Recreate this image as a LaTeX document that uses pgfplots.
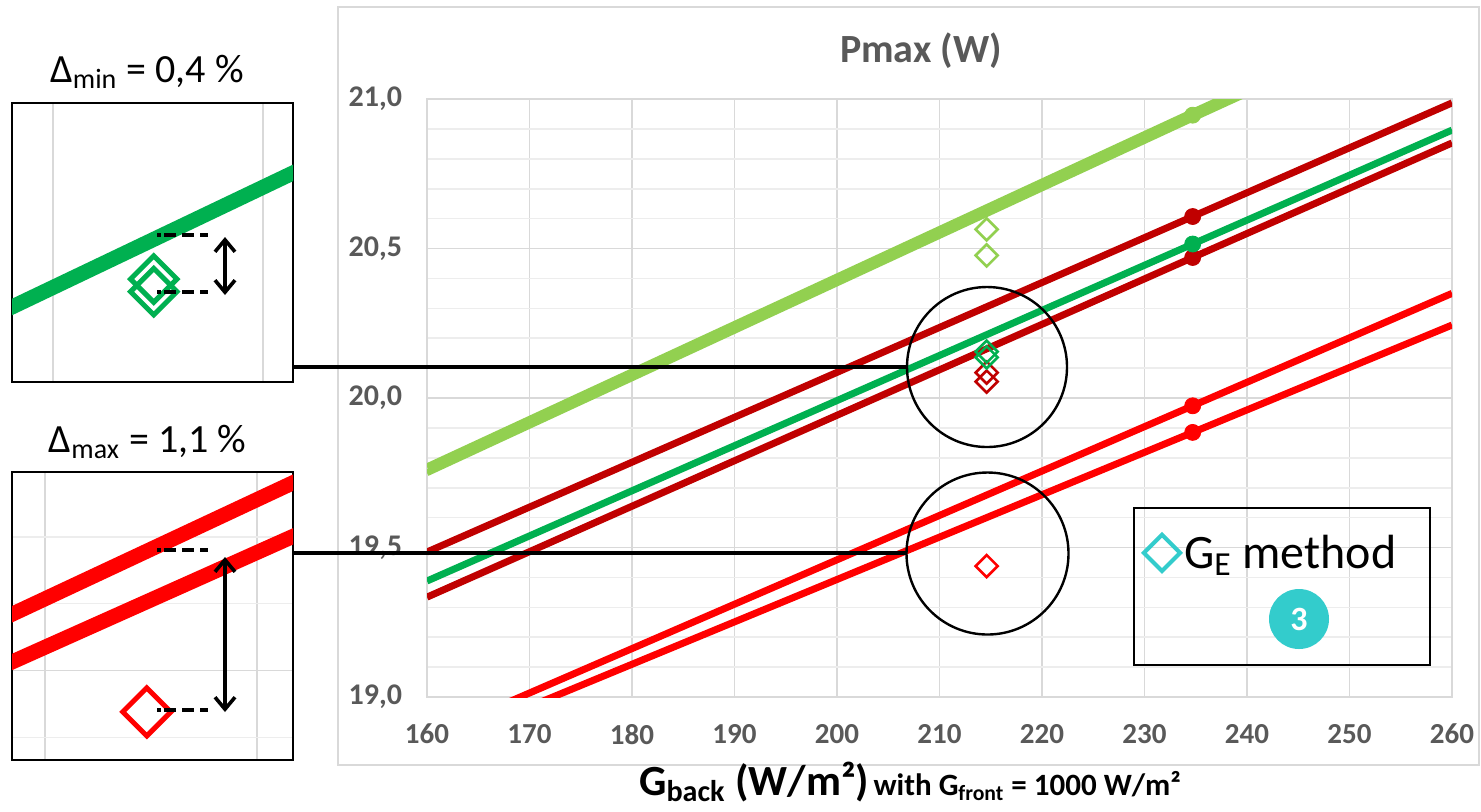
\documentclass[border=0pt]{standalone}
\usepackage{pgfplots}
\pgfplotsset{compat=1.18}
\usepackage{fontspec}
\setmainfont{Carlito}
\usetikzlibrary{arrows.meta}
\definecolor{cLime}{HTML}{92D050}
\definecolor{cGreen}{HTML}{00B050}
\definecolor{cDRed}{HTML}{C00000}
\definecolor{cRed}{HTML}{FF0000}
\definecolor{cCyan}{HTML}{33CCCC}
\definecolor{cText}{HTML}{595959}
\definecolor{cGrid}{HTML}{D9D9D9}
\definecolor{cGridMinor}{HTML}{EDEDED}

% line data (Gback, Pmax)
\pgfplotstableread{
x y
160 19.770
234.7 20.956
260 21.353
}\limeA
\pgfplotstableread{
x y
160 19.750
234.7 20.936
260 21.333
}\limeB
\pgfplotstableread{
x y
160 19.485
234.7 20.607
260 20.987
}\dredA
\pgfplotstableread{
x y
160 19.388
234.7 20.515
260 20.896
}\green
\pgfplotstableread{
x y
160 19.334
234.7 20.470
260 20.853
}\dredB
\pgfplotstableread{
x y
160 18.865
234.7 19.974
260 20.350
}\redA
\pgfplotstableread{
x y
160 18.826
234.7 19.885
260 20.244
}\redB

\begin{document}
\begin{tikzpicture}
\useasboundingbox (0,0) rectangle (740.5pt,-405.5pt);
\fill[white] (0,0) rectangle (740.5pt,-405.5pt);
\begin{scope}[x=0.5pt,y=-0.5pt]
\draw[cGrid, line width=1pt] (338,7) rectangle (1479,765);
\end{scope}

% ---------------- main axis ----------------
\begin{axis}[
  at={(213.5pt,-348.5pt)}, anchor=south west,
  scale only axis, width=512.5pt, height=299pt,
  xmin=160, xmax=260, ymin=19, ymax=21,
  xtick={160,170,180,190,200,210,220,230,240,250,260},
  ytick={19,19.5,20,20.5,21},
  minor ytick={19.1,19.2,19.3,19.4,19.6,19.7,19.8,19.9,20.1,20.2,20.3,20.4,20.6,20.7,20.8,20.9},
  grid=both,
  major grid style={draw=cGrid, line width=0.8pt},
  minor grid style={draw=cGridMinor, line width=0.8pt},
  axis line style={draw=cGrid, line width=0.8pt},
  tick style={draw=none},
  /pgf/number format/assume math mode=true,
  xticklabel style={font=\bfseries\fontsize{14.5}{16}\selectfont, text=cText, yshift=-10pt},
  yticklabel style={font=\bfseries\fontsize{15}{17}\selectfont, text=cText, xshift=-9pt},
  yticklabel={\pgfmathprintnumber[fixed,fixed zerofill,precision=1,use comma]{\tick}},
  legend style={at={(axis description cs:0.699,0.241)}, anchor=west, draw=none, fill=none,
    font=\fontsize{24}{28}\selectfont, inner sep=0pt, nodes={inner sep=2pt}},
  legend image code/.code={\draw[#1] plot coordinates {(0pt,0pt)};},
]
\addlegendimage{only marks, mark=square, mark size=6.4pt, mark options={rotate=45, line width=2pt}, cCyan}
\addlegendentry{G\textsubscript{E} method}

\addplot[forget plot, cLime, line width=3.4pt] table {\limeB};
\addplot[forget plot, cLime, line width=3.4pt] table {\limeA};
\addplot[forget plot, cDRed, line width=3.5pt] table {\dredA};
\addplot[forget plot, cGreen, line width=3.5pt] table {\green};
\addplot[forget plot, cDRed, line width=3.5pt] table {\dredB};
\addplot[forget plot, cRed, line width=3.5pt] table {\redA};
\addplot[forget plot, cRed, line width=3.5pt] table {\redB};

% measured points
\addplot[forget plot, only marks, mark=*, mark size=4pt, cLime] coordinates {(234.7,20.946)};
\addplot[forget plot, only marks, mark=*, mark size=4pt, cDRed] coordinates {(234.7,20.607) (234.7,20.470)};
\addplot[forget plot, only marks, mark=*, mark size=4pt, cGreen] coordinates {(234.7,20.515)};
\addplot[forget plot, only marks, mark=*, mark size=4pt, cRed] coordinates {(234.7,19.974) (234.7,19.885)};

% GE method diamonds
\addplot[forget plot, only marks, mark=square, mark size=3.9pt, mark options={rotate=45, line width=1.3pt}, cLime] coordinates {(214.6,20.564) (214.6,20.477)};
\addplot[forget plot, only marks, mark=square, mark size=3.9pt, mark options={rotate=45, line width=1.3pt}, cDRed] coordinates {(214.6,20.085) (214.6,20.055)};
\addplot[forget plot, only marks, mark=square, mark size=3.9pt, mark options={rotate=45, line width=1.3pt}, cGreen] coordinates {(214.6,20.155) (214.6,20.136)};
\addplot[forget plot, only marks, mark=square, mark size=3.9pt, mark options={rotate=45, line width=1.3pt}, cRed] coordinates {(214.6,19.438)};
\end{axis}

% ---------------- top inset (zoom) ----------------
\begin{axis}[
  at={(6pt,-191pt)}, anchor=south west,
  scale only axis, width=140.5pt, height=139.5pt,
  xmin=208.05, xmax=221.43, ymin=20.0, ymax=20.42,
  xtick={210,220}, ytick=\empty,
  minor ytick={20.1,20.2,20.3,20.4},
  xticklabels={}, grid=both,
  major grid style={draw=cGrid, line width=0.8pt},
  minor grid style={draw=cGridMinor, line width=0.8pt},
  axis line style={draw=black, line width=1pt},
  tick style={draw=none},
]
\addplot[cGreen, line width=7.5pt] table {\green};
\addplot[only marks, mark=square, mark size=8.2pt, mark options={rotate=45, line width=2.5pt}, cGreen] coordinates {(214.8,20.155) (214.8,20.136)};
\end{axis}

% ---------------- bottom inset (zoom) ----------------
\begin{axis}[
  at={(6pt,-380pt)}, anchor=south west,
  scale only axis, width=140.5pt, height=144pt,
  xmin=208.44, xmax=221.7, ymin=19.366, ymax=19.797,
  xtick={210,220}, ytick={19.5},
  minor ytick={19.4,19.6,19.7},
  xticklabels={}, yticklabels={}, grid=both,
  major grid style={draw=cGrid, line width=0.8pt},
  minor grid style={draw=cGridMinor, line width=0.8pt},
  axis line style={draw=black, line width=1pt},
  tick style={draw=none},
]
\addplot[cRed, line width=7.5pt] table {\redA};
\addplot[cRed, line width=7.5pt] table {\redB};
\addplot[only marks, mark=square, mark size=8.5pt, mark options={rotate=45, line width=2.5pt}, cRed] coordinates {(214.8,19.438)};
\end{axis}

% ---------------- annotations ----------------
\begin{scope}[x=0.5pt,y=-0.5pt]
\draw[line width=2pt] (293,367) -- (907,367);
\draw[line width=2pt] (293,553) -- (907,553);
\draw[line width=1.2pt] (987,367) circle (40pt);
\draw[line width=1.2pt] (987.5,553.5) circle (40.5pt);
% legend frame
\draw[line width=1.2pt] (1134,508) rectangle (1430,665);
\node[circle, fill=cCyan, minimum size=30pt, inner sep=0pt, text=white, font=\bfseries\fontsize{17}{20}\selectfont] at (1299,619) {3};
% dashed and arrows in insets
\tikzset{dsh/.style={line width=1.7pt, dash pattern={on 2pt off 1.5pt on 6pt off 3pt on 6pt off 3pt on 6pt}}}
\draw[dsh] (157,235) -- (208,235);
\draw[dsh] (157,292) -- (208,292);
\draw[line width=1.8pt, {Straight Barb[length=6pt,width=10pt]}-{Straight Barb[length=6pt,width=10pt]}] (225,237) -- (225,295);
\draw[dsh] (157,550) -- (208,550);
\draw[dsh] (157,710) -- (208,710);
\draw[line width=1.8pt, {Straight Barb[length=6pt,width=10pt]}-{Straight Barb[length=6pt,width=10pt]}] (225,557) -- (225,712);
% texts
\node[anchor=base, font=\fontsize{20}{24}\selectfont] at (147,82) {Δ\textsubscript{min} = 0,4 \%};
\node[anchor=base, font=\fontsize{20}{24}\selectfont] at (147.5,452) {Δ\textsubscript{max} = 1,1 \%};
\node[anchor=base, font=\bfseries\fontsize{20}{24}\selectfont, text=cText] at (921,62) {Pmax (W)};
\node[anchor=base, font=\bfseries] at (910,795) {{\fontsize{21.5}{24}\selectfont G\textsubscript{back} (W/m²)} {\fontsize{15.5}{17}\selectfont with G\textsubscript{front} = 1000 W/m²}};
\end{scope}
\end{tikzpicture}
\end{document}
